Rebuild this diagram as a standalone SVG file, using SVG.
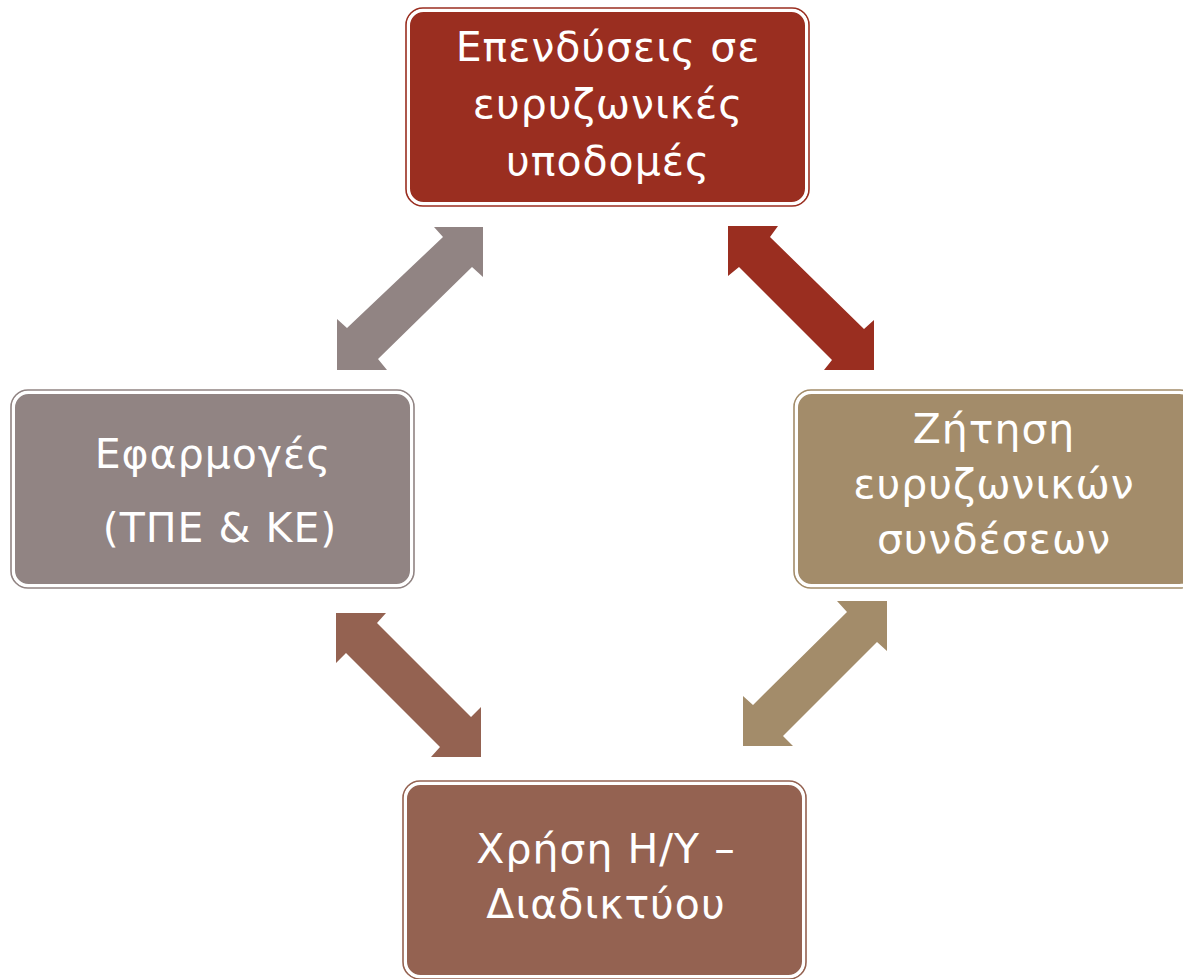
<svg xmlns="http://www.w3.org/2000/svg" width="1183" height="979" viewBox="0 0 1183 979">
<style>
.t{font-family:"DejaVu Sans","Noto Sans",sans-serif;font-size:41px;letter-spacing:1px;fill:#fff;text-anchor:middle}
.in{stroke:#fff;stroke-width:3}
.out{fill:none;stroke-width:1.6}
</style>
<rect width="1183" height="979" fill="#fff"/>
<g id="connectors">
<polygon fill="#918483" points="483,227 434,227 443,237 347,328 337,319 337,370 387,370 378,359 472,267 483,277"/>
<polygon fill="#9A2E20" points="728,226 778,226 770,237 864,329 874,320 874,370 824,370 832,360 739,267 728,276"/>
<polygon fill="#946251" points="336,613 386,613 377,623 471,717 481,707 481,757 431,757 440,747 346,653 336,663"/>
<polygon fill="#A38C6A" points="887,601 837,601 847,612 753,705 743,696 743,746 793,746 783,736 877,642 887,651"/>
</g>
<g id="n1">
<rect class="out" stroke="#9A2E20" x="406" y="8" width="403" height="198" rx="17"/>
<rect class="in" fill="#9A2E20" x="408.5" y="10.5" width="398" height="193" rx="15"/>
<text class="t" x="608" y="61">Επενδύσεις σε</text>
<text class="t" x="608" y="118">ευρυζωνικές</text>
<text class="t" x="608" y="175">υποδομές</text>
</g>
<g id="n2">
<rect class="out" stroke="#918483" x="11" y="390" width="403" height="198" rx="17"/>
<rect class="in" fill="#918483" x="13.5" y="392.5" width="398" height="193" rx="15"/>
<text class="t" x="213" y="468">Εφαρμογές</text>
<text class="t" x="220" y="542">(ΤΠΕ &amp; ΚΕ)</text>
</g>
<g id="n3">
<rect class="out" stroke="#A38C6A" x="794" y="390" width="403" height="198" rx="17"/>
<rect class="in" fill="#A38C6A" x="796.5" y="392.5" width="398" height="193" rx="15"/>
<text class="t" x="994" y="443">Ζήτηση</text>
<text class="t" x="994" y="498">ευρυζωνικών</text>
<text class="t" x="994" y="553">συνδέσεων</text>
</g>
<g id="n4">
<rect class="out" stroke="#946251" x="403" y="781" width="403" height="198" rx="17"/>
<rect class="in" fill="#946251" x="405.5" y="783.5" width="398" height="193" rx="15"/>
<text class="t" x="606" y="863">Χρήση Η/Υ –</text>
<text class="t" x="606" y="918">Διαδικτύου</text>
</g>
</svg>
